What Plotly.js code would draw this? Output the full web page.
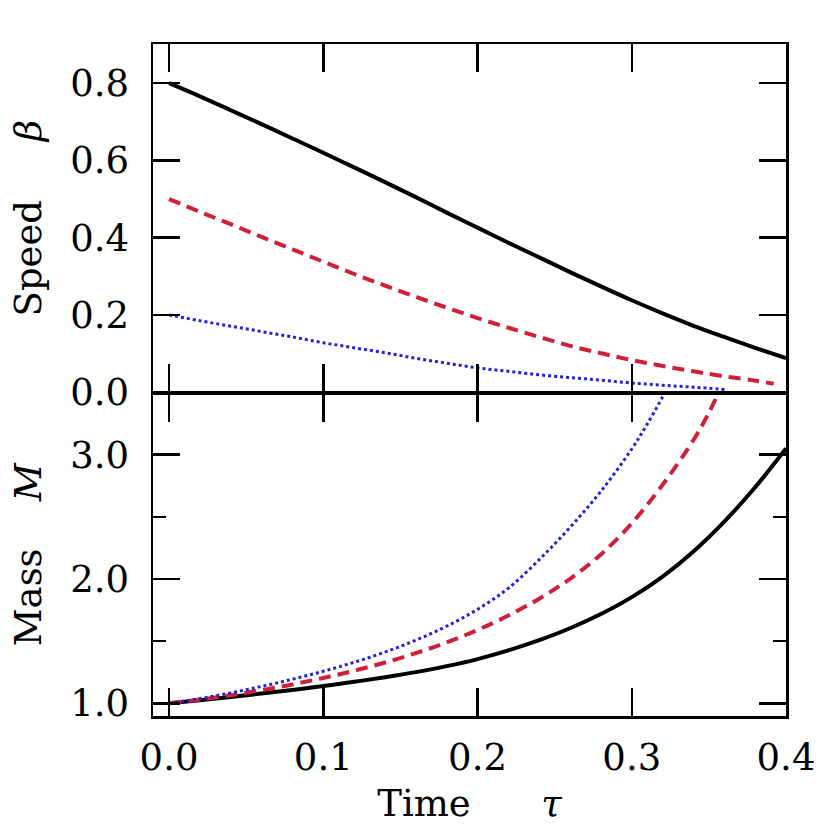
<!DOCTYPE html>
<html>
<head>
<meta charset="utf-8">
<script src="https://cdn.plot.ly/plotly-3.0.1.min.js"></script>
<style>
  html, body { margin: 0; padding: 0; background: #fff; }
  #plot { width: 830px; height: 830px; }
</style>
</head>
<body>
<div id="plot"></div>
<script>
// time samples (tau) and values
const tauBlackSpeed = [0, 0.02, 0.04, 0.06, 0.08, 0.10, 0.12, 0.14, 0.16, 0.18, 0.20,
                       0.22, 0.24, 0.26, 0.28, 0.30, 0.32, 0.34, 0.36, 0.38, 0.40];
const speedBlack = [0.800, 0.766, 0.730, 0.694, 0.657, 0.620, 0.582, 0.544, 0.505, 0.465, 0.426,
                    0.387, 0.349, 0.311, 0.274, 0.238, 0.204, 0.172, 0.143, 0.115, 0.088];

const tauRedSpeed = [0, 0.02, 0.04, 0.06, 0.08, 0.10, 0.12, 0.14, 0.16, 0.18, 0.20,
                     0.22, 0.24, 0.26, 0.28, 0.30, 0.32, 0.34, 0.36, 0.38, 0.392];
const speedRed = [0.500, 0.467, 0.435, 0.402, 0.370, 0.338, 0.306, 0.276, 0.247, 0.219, 0.192,
                  0.167, 0.143, 0.120, 0.101, 0.083, 0.068, 0.054, 0.041, 0.030, 0.022];

const tauBlueSpeed = [0, 0.02, 0.04, 0.06, 0.08, 0.10, 0.12, 0.14, 0.16, 0.18, 0.20,
                      0.22, 0.24, 0.26, 0.28, 0.30, 0.32, 0.34, 0.361];
const speedBlue = [0.200, 0.185, 0.171, 0.157, 0.143, 0.128, 0.115, 0.102, 0.088, 0.075, 0.063,
                   0.054, 0.045, 0.038, 0.031, 0.024, 0.018, 0.013, 0.007];

const tauBlackMass = [0, 0.02, 0.04, 0.06, 0.08, 0.10, 0.12, 0.14, 0.16, 0.18, 0.20,
                      0.22, 0.24, 0.26, 0.28, 0.30, 0.32, 0.34, 0.36, 0.38, 0.40];
const massBlack = [1.000, 1.025, 1.051, 1.079, 1.108, 1.139, 1.173, 1.210, 1.251, 1.299, 1.356,
                   1.426, 1.508, 1.604, 1.718, 1.854, 2.020, 2.222, 2.462, 2.738, 3.050];

const tauRedMass = [0, 0.02, 0.04, 0.06, 0.08, 0.10, 0.12, 0.14, 0.16, 0.18, 0.20,
                    0.22, 0.24, 0.26, 0.28, 0.30, 0.32, 0.34, 0.35, 0.357];
const massRed = [1.000, 1.030, 1.066, 1.106, 1.152, 1.204, 1.262, 1.328, 1.404, 1.490, 1.590,
                 1.706, 1.842, 2.002, 2.198, 2.448, 2.758, 3.118, 3.338, 3.520];

const tauBlueMass = [0, 0.02, 0.04, 0.06, 0.08, 0.10, 0.12, 0.14, 0.16, 0.18, 0.20,
                     0.22, 0.24, 0.26, 0.28, 0.30, 0.31, 0.32, 0.3235];
const massBlue = [1.000, 1.038, 1.084, 1.136, 1.194, 1.258, 1.330, 1.412, 1.508, 1.620, 1.756,
                  1.926, 2.156, 2.416, 2.706, 3.046, 3.246, 3.466, 3.550];

const xTicks = [0, 0.1, 0.2, 0.3, 0.4];
const speedTicks = [0, 0.2, 0.4, 0.6, 0.8];
const massTicks = [1, 2, 3];

const serif = 'DejaVu Serif, Liberation Serif, serif';
const black = '#000000';
const red = '#cf1f3a';
const blue = '#2222dd';

const solid = { color: black, width: 4, dash: 'solid', shape: 'spline', smoothing: 1 };
const dashed = { color: red, width: 4, dash: '12px,7px', shape: 'spline', smoothing: 1 };
const dotted = { color: blue, width: 3, dash: 'dot', shape: 'spline', smoothing: 1 };

const data = [
    { x: tauBlackSpeed, y: speedBlack, xaxis: 'x2', yaxis: 'y2', mode: 'lines', line: solid },
    { x: tauRedSpeed, y: speedRed, xaxis: 'x2', yaxis: 'y2', mode: 'lines', line: dashed },
    { x: tauBlueSpeed, y: speedBlue, xaxis: 'x2', yaxis: 'y2', mode: 'lines', line: dotted },
    { x: tauBlackMass, y: massBlack, xaxis: 'x', yaxis: 'y', mode: 'lines', line: solid },
    { x: tauRedMass, y: massRed, xaxis: 'x', yaxis: 'y', mode: 'lines', line: dashed },
    { x: tauBlueMass, y: massBlue, xaxis: 'x', yaxis: 'y', mode: 'lines', line: dotted }
];

// shared frame / tick styling
const lw = 2.5;
const frame = {
    showline: true, linecolor: black, linewidth: lw, mirror: 'ticks',
    ticks: 'inside', tickcolor: black, tickwidth: lw,
    showgrid: false, zeroline: false,
    tickfont: { family: serif, size: 37, color: black }
};
const titleFont = { family: serif, size: 37, color: black };
const nb = n => '\u00a0'.repeat(n);

// small gap between panels so their frame lines merge into one divider
const plotH = 672;
const gap = 1.6;
const lowTop = (323 - gap / 2) / plotH;
const highBottom = (323 + gap / 2) / plotH;

const layout = {
    width: 830, height: 830,
    margin: { l: 153, r: 44, t: 44, b: 114 },
    paper_bgcolor: '#fff', plot_bgcolor: '#fff',
    showlegend: false,
    xaxis: Object.assign({}, frame, {
        anchor: 'y', range: [-0.0104, 0.4], tickvals: xTicks, tickformat: '.1f', ticklen: 28,
        ticklabelstandoff: 7,
        title: { text: 'Time' + nb(6) + '<i>τ</i>', font: titleFont, standoff: 12 }
    }),
    xaxis2: Object.assign({}, frame, {
        anchor: 'y2', matches: 'x', range: [-0.0104, 0.4], tickvals: xTicks, ticklen: 28, showticklabels: false
    }),
    yaxis: Object.assign({}, frame, {
        domain: [0, lowTop], range: [0.898, 3.49], tickvals: massTicks, tickformat: '.1f', ticklen: 27,
        ticklabelstandoff: 14,
        minor: { dtick: 0.5, ticks: 'inside', ticklen: 13, tickcolor: black, tickwidth: lw },
        title: { text: 'Mass' + nb(4) + '<i>M</i>', font: titleFont, standoff: 18 }
    }),
    yaxis2: Object.assign({}, frame, {
        domain: [highBottom, 1], range: [0, 0.9015], tickvals: speedTicks, tickformat: '.1f', ticklen: 27,
        ticklabelstandoff: 14,
        title: { text: 'Speed' + nb(5) + '<i>β</i>', font: titleFont, standoff: 18 }
    })
};

Plotly.newPlot('plot', data, layout, { staticPlot: true });
</script>
</body>
</html>
